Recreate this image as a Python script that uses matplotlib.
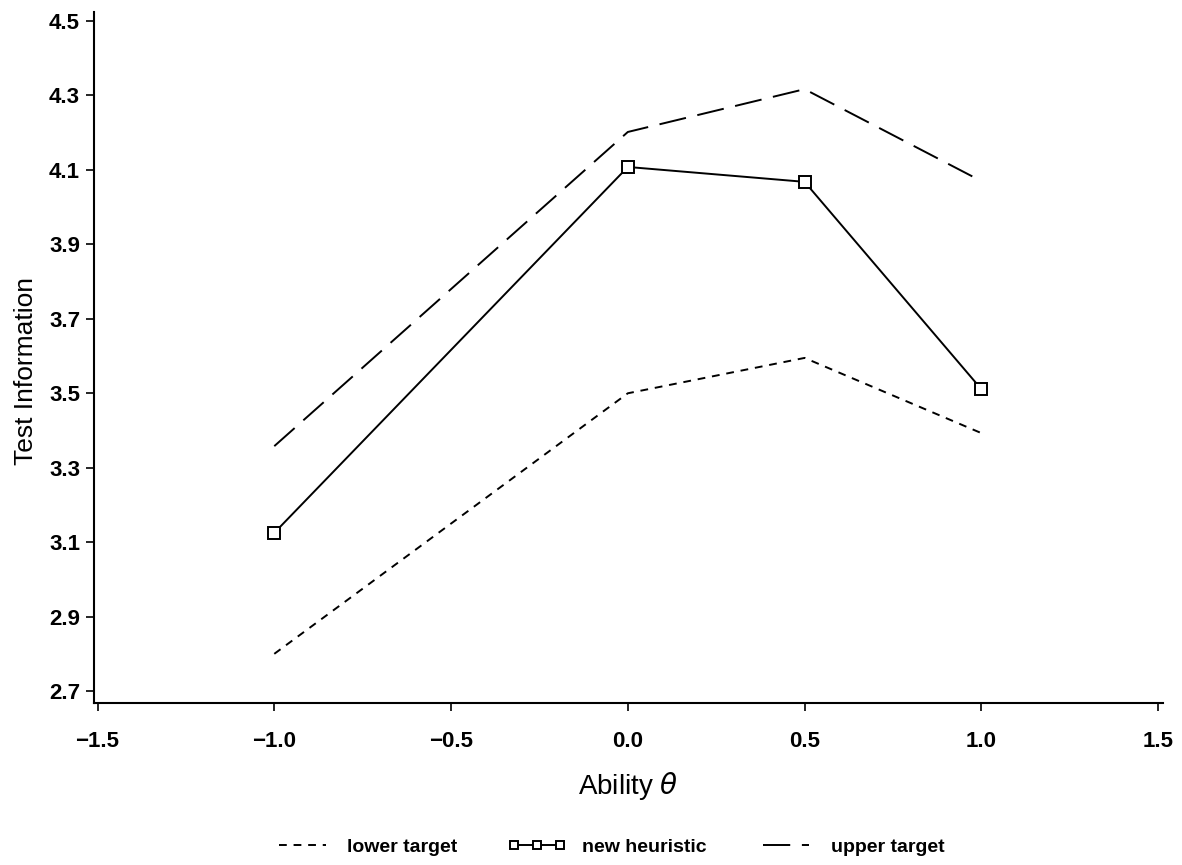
import matplotlib.pyplot as plt

ability = [-1.0, 0.0, 0.5, 1.0]
lower_target = [2.80, 3.50, 3.595, 3.393]
new_heuristic = [3.125, 4.108, 4.068, 3.511]
upper_target = [3.358, 4.202, 4.317, 4.070]

xticks = [-1.5, -1.0, -0.5, 0.0, 0.5, 1.0, 1.5]
yticks = [2.7, 2.9, 3.1, 3.3, 3.5, 3.7, 3.9, 4.1, 4.3, 4.5]

plt.rcParams['font.family'] = ['Liberation Sans', 'DejaVu Sans']

fig = plt.figure(figsize=(11.82, 8.65), dpi=100)
ax = fig.add_axes([0.0795, 0.1873, 0.9045, 0.7987])

ax.plot(ability, lower_target, color='black', lw=1.4, linestyle=(0, (4, 3.5)),
        label='lower target')
ax.plot(ability, new_heuristic, color='black', lw=1.4, marker='s', markersize=8,
        markerfacecolor='white', markeredgewidth=1.4, label='new heuristic')
ax.plot(ability, upper_target, color='black', lw=1.4, linestyle=(0, (14, 6)),
        label='upper target')

ax.set_xlim(-1.51, 1.514)
ax.set_ylim(2.668, 4.524)
ax.set_xticks(xticks)
ax.set_xticklabels(['\u22121.5', '\u22121.0', '\u22120.5', '0.0', '0.5', '1.0', '1.5'])
ax.set_yticks(yticks)
ax.set_yticklabels([f'{v:.1f}' for v in yticks])
for lbl in ax.get_xticklabels() + ax.get_yticklabels():
    lbl.set_fontweight('bold')
    lbl.set_fontsize(16)
ax.tick_params(direction='out', length=6, width=1.2, pad=4)
ax.tick_params(axis='x', pad=14)

for side in ['top', 'right']:
    ax.spines[side].set_visible(False)
for side in ['left', 'bottom']:
    ax.spines[side].set_linewidth(1.5)

ax.set_xlabel(r'Ability $\theta$', fontsize=20, labelpad=13)
ax.set_ylabel('Test Information', fontsize=19)
ax.yaxis.set_label_coords(-0.052, 0.48)

fig.legend(loc='center', bbox_to_anchor=(0.515, 0.021), ncol=3, frameon=False,
           prop={'weight': 'bold', 'size': 14}, handlelength=3, columnspacing=2.6,
           numpoints=3, markerscale=0.7)

fig.savefig('out.png', dpi=100, facecolor='white')
